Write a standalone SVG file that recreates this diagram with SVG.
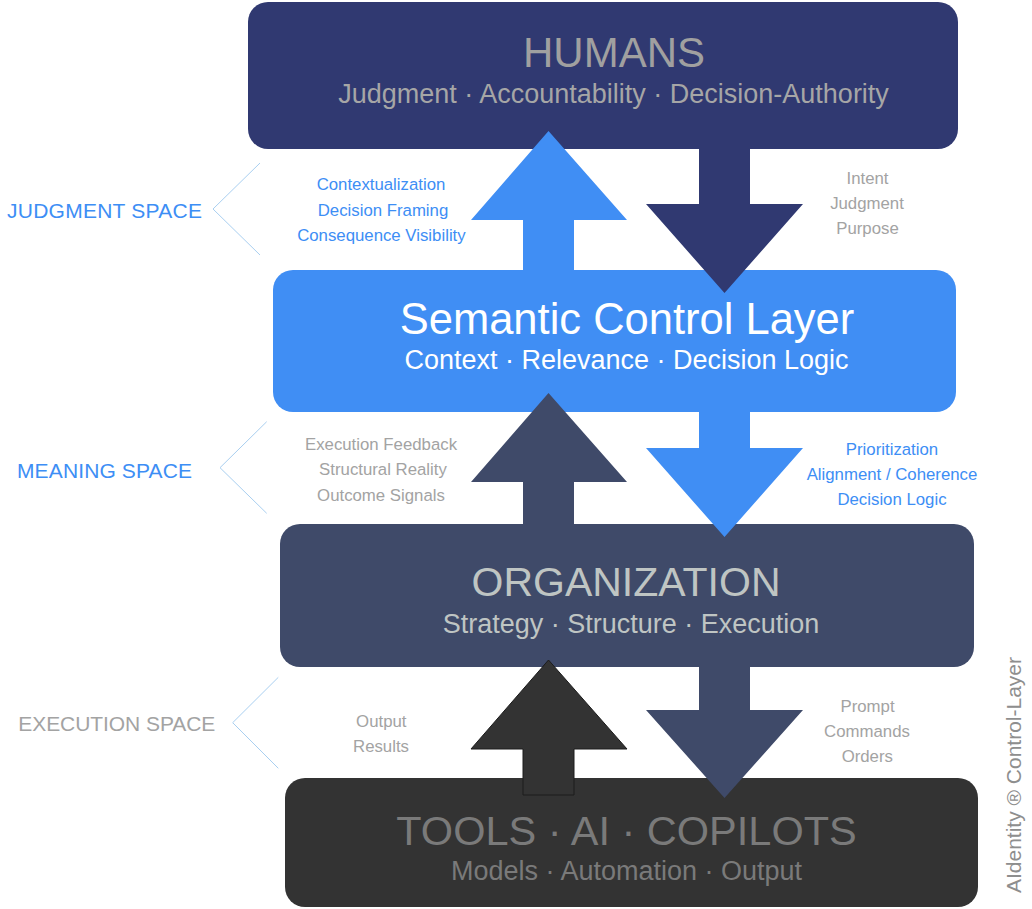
<svg xmlns="http://www.w3.org/2000/svg" width="1032" height="909" viewBox="0 0 1032 909">
  <defs>
    <style>
      text { font-family: "Liberation Sans", Arial, sans-serif; }
      .title { font-size: 42px; text-anchor: middle; }
      .sub { font-size: 27px; text-anchor: middle; }
      .lbl { font-size: 16.8px; text-anchor: middle; }
      .space { font-size: 21px; }
      .blue { fill: #3d8ef5; }
      .gray { fill: #a3a3a3; }
      .bracket { fill: none; stroke: #a9cff0; stroke-width: 1; }
    </style>
  </defs>
  <rect width="1032" height="909" fill="#ffffff"/>

  <g id="node-humans">
    <rect x="248" y="2" width="710" height="147" rx="20" fill="#303971"/>
  </g>
  <g id="node-semantic">
    <rect x="273" y="270" width="683" height="142" rx="20" fill="#408ef4"/>
  </g>
  <g id="node-organization">
    <rect x="280" y="524" width="694" height="143" rx="20" fill="#3f4a69"/>
  </g>
  <g id="node-tools">
    <rect x="285" y="778" width="693" height="129" rx="20" fill="#333333"/>
  </g>

  <g id="connectors">
    <polygon points="523,280 523,220 471,220 548.5,131 627,220 574,220 574,280" fill="#408ef4"/>
    <polygon points="699,140 750,140 750,204 803,204 724.5,293 646,204 699,204" fill="#303971"/>
    <polygon points="523,530 523,482 471,482 548.5,393 627,482 574,482 574,530" fill="#3f4a69"/>
    <polygon points="699,405 750,405 750,448 803,448 724.5,537 646,448 699,448" fill="#408ef4"/>
    <polygon points="523,795 523,749 471,749 548.5,660 627,749 574,749 574,795 Z" fill="#333333" stroke="#1c1c1c" stroke-width="1"/>
    <polygon points="699,660 750,660 750,710 803,710 724.5,798 646,710 699,710" fill="#3f4a69"/>
  </g>

  <g id="text-humans">
    <text class="title" x="614" y="67" fill="#a0a0a0">HUMANS</text>
    <text class="sub" x="613.5" y="103" fill="#a6a6a6">Judgment · Accountability · Decision-Authority</text>
  </g>
  <g id="text-semantic">
    <text class="title" x="627" y="334" fill="#ffffff" style="font-size:43.5px">Semantic Control Layer</text>
    <text class="sub" x="626.5" y="369" fill="#ffffff">Context · Relevance · Decision Logic</text>
  </g>
  <g id="text-organization">
    <text class="title" x="626" y="596" fill="#bfc5c3" style="font-size:41px">ORGANIZATION</text>
    <text class="sub" x="631" y="633" fill="#bfc5c3">Strategy · Structure · Execution</text>
  </g>
  <g id="text-tools">
    <text class="title" x="626.5" y="845" fill="#7a7a7a" style="font-size:41.5px">TOOLS · AI · COPILOTS</text>
    <text class="sub" x="626.5" y="880" fill="#7a7a7a">Models · Automation · Output</text>
  </g>

  <g id="spaces">
    <text class="space blue" x="7" y="218" textLength="195">JUDGMENT SPACE</text>
    <polyline class="bracket" points="260,163 213,209 260,255"/>
    <text class="space blue" x="17" y="478" textLength="175">MEANING SPACE</text>
    <polyline class="bracket" points="266.7,421.7 220,467.7 266.7,513.3"/>
    <text class="space gray" x="18.3" y="731" textLength="197">EXECUTION SPACE</text>
    <polyline class="bracket" points="278.3,677.3 232.7,722.7 278.3,768.3"/>
  </g>

  <g id="labels">
    <text class="lbl blue" x="381" y="190">Contextualization</text>
    <text class="lbl blue" x="383" y="215.5">Decision Framing</text>
    <text class="lbl blue" x="381.4" y="240.7">Consequence Visibility</text>

    <text class="lbl gray" x="867.5" y="184">Intent</text>
    <text class="lbl gray" x="867" y="209.3">Judgment</text>
    <text class="lbl gray" x="867.5" y="234.3">Purpose</text>

    <text class="lbl gray" x="381" y="450">Execution Feedback</text>
    <text class="lbl gray" x="383" y="475.3">Structural Reality</text>
    <text class="lbl gray" x="381" y="500.7">Outcome Signals</text>

    <text class="lbl blue" x="892" y="455">Prioritization</text>
    <text class="lbl blue" x="892" y="480">Alignment / Coherence</text>
    <text class="lbl blue" x="892" y="505">Decision Logic</text>

    <text class="lbl gray" x="381.3" y="726.7">Output</text>
    <text class="lbl gray" x="381" y="751.7">Results</text>

    <text class="lbl gray" x="867.5" y="711.7">Prompt</text>
    <text class="lbl gray" x="867" y="736.7">Commands</text>
    <text class="lbl gray" x="867.3" y="761.7">Orders</text>
  </g>

  <g id="watermark">
    <text x="0" y="0" transform="translate(1021,775) rotate(-90)" style="font-size:21px;text-anchor:middle" fill="#8e8e8e">AIdentity ® Control-Layer</text>
  </g>
</svg>
